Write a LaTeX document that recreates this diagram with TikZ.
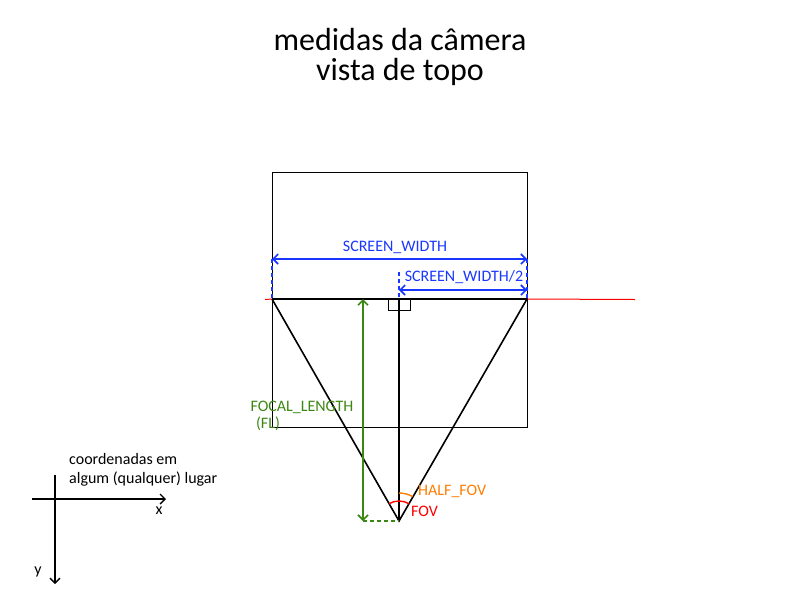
\documentclass[tikz,border=0pt]{standalone}
\usepackage{fontspec}
\setmainfont{Carlito}
\usetikzlibrary{arrows.meta}
\definecolor{cblue}{RGB}{25,55,255}
\definecolor{cgreen}{RGB}{60,135,20}
\definecolor{corange}{RGB}{255,125,0}
\definecolor{cred}{RGB}{255,0,0}
\tikzset{
  lbl/.style={inner sep=0pt, font=\fontsize{16}{19}\selectfont},
  tip/.style={-{Straight Barb[length=5pt,width=10pt]}},
  dtip/.style={{Straight Barb[length=5pt,width=10pt]}-{Straight Barb[length=5pt,width=10pt]}},
}
\begin{document}
\begin{tikzpicture}[x=1pt,y=-1pt]
\useasboundingbox (0,0) rectangle (800,600);
% title
\node[inner sep=0pt, font=\fontsize{32}{30}\selectfont, align=center] (title) at (400,57) {medidas da câmera\\vista de topo};
% screen box
\node[draw, line width=0.9pt, minimum width=255pt, minimum height=255pt, inner sep=0pt] (box) at (399.5,299.5) {};
% coordinates
\coordinate (L) at (272,299);
\coordinate (R) at (527,299);
\coordinate (C) at (399,299);
\coordinate (F) at (399,521);
\coordinate (RL) at (265,299.5);
\coordinate (RR) at (635,299.5);
\draw[line width=1.8pt] (L) -- (R);
\draw[cred, line width=1pt] (RL) -- (L);
\draw[cred, line width=1pt] (R) -- (RR);
\draw[line width=1.6pt] (L) -- (F) -- (R);
\draw[line width=1.6pt] (C) -- (F);
\coordinate (sq1) at (388,299);
\coordinate (sq2) at (410,310);
\draw[line width=0.8pt] (sq1) rectangle (sq2);
% screen width
\coordinate (SWL) at (272,259);
\coordinate (SWR) at (527,259);
\draw[cblue, line width=1.6pt, dtip] (SWL) -- (SWR);
\draw[cblue, line width=1.6pt, dash pattern=on 4pt off 3pt] (SWL) -- (L);
\draw[cblue, line width=1.6pt, dash pattern=on 4pt off 3pt] (SWR) -- (R);
\node[lbl, text=cblue] (swlab) at (395,247) {SCREEN\_WIDTH};
% half width
\coordinate (HWL) at (399,290);
\coordinate (HWR) at (527,290);
\coordinate (HWT) at (399,272);
\draw[cblue, line width=1.6pt, dtip] (HWL) -- (HWR);
\draw[cblue, line width=1.6pt, dash pattern=on 4pt off 3pt] (HWT) -- (C);
\node[lbl, text=cblue] (hwlab) at (464,277) {SCREEN\_WIDTH/2};
% focal length
\coordinate (FLT) at (363,299);
\coordinate (FLB) at (363,521);
\draw[cgreen, line width=1.6pt, dtip] (FLB) -- (FLT);
\draw[cgreen, line width=1.6pt, dash pattern=on 4pt off 3pt] (FLB) -- (F);
\node[lbl, text=cgreen] (fllab) at (302,407) {FOCAL\_LENGTH};
\node[lbl, text=cgreen] (fllab2) at (268,424) {(FL)};
% angles
\draw[corange, line width=1.4pt] (F) ++(-90:28) arc (-90:-61:28);
\draw[cred, line width=1.4pt] (F) ++(-120:20) arc (-120:-60:20);
\node[lbl, text=corange, anchor=west] (hf) at (418,491) {HALF\_FOV};
\node[lbl, text=cred, anchor=west] (fov) at (411,511) {FOV};
% axes
\coordinate (X0) at (32,499);
\coordinate (X1) at (166,499);
\coordinate (Y0) at (55,475);
\coordinate (Y1) at (55,584);
\draw[line width=1.4pt, tip] (X0) -- (X1);
\draw[line width=1.4pt, tip] (Y0) -- (Y1);
\node[lbl] (xl) at (159,511) {x};
\node[lbl] (yl) at (38,572) {y};
\node[lbl, anchor=west] (c1) at (69,459) {coordenadas em};
\node[lbl, anchor=west] (c2) at (69,479) {algum (qualquer) lugar};
\end{tikzpicture}
\end{document}
